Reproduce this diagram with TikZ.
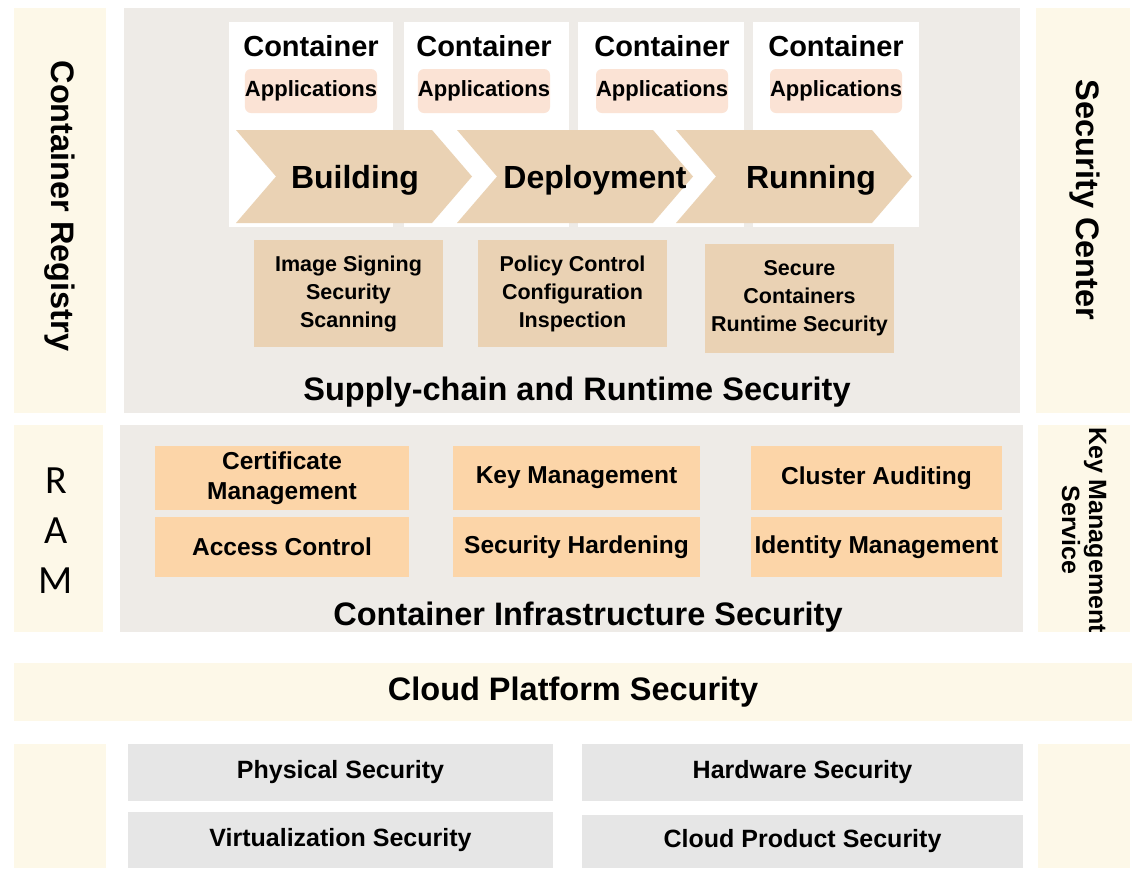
\documentclass[tikz,border=0pt]{standalone}
\usepackage{fontspec}
\setmainfont{Liberation Sans}
\newfontfamily\ramfont{Carlito}
\usetikzlibrary{positioning}
\definecolor{cream}{HTML}{FDF8E8}
\definecolor{panelgray}{HTML}{EEEBE7}
\definecolor{peach}{HTML}{FBE3D5}
\definecolor{tan}{HTML}{EAD2B4}
\definecolor{orangebox}{HTML}{FCD5A8}
\definecolor{basegray}{HTML}{E6E6E6}

\begin{document}
\begin{tikzpicture}[x=1pt,y=-1pt,
	block/.style={rectangle,inner sep=0pt,align=center},
	strip/.style={block,fill=cream},
	panel/.style={block,fill=panelgray},
	ctrbox/.style={block,fill=white,minimum height=205pt},
	apppill/.style={block,fill=peach,rounded corners=6pt,minimum width=122pt,minimum height=44pt,font=\fontsize{22}{26}\selectfont\bfseries},
	ctrtitle/.style={inner sep=0pt,font=\fontsize{29}{34}\selectfont\bfseries},
	stage/.style={inner sep=0pt,font=\fontsize{32}{38}\selectfont\bfseries},
	featbox/.style={block,fill=tan,minimum width=189pt,font=\fontsize{21.5}{28}\selectfont\bfseries},
	infrabox/.style={block,fill=orangebox,font=\fontsize{24.5}{30}\selectfont\bfseries},
	basebox/.style={block,fill=basegray,font=\fontsize{25}{30}\selectfont\bfseries},
	layertitle/.style={inner sep=0pt,font=\fontsize{32.5}{38}\selectfont\bfseries},
	sidelabel/.style={rotate=-90,inner sep=0pt,align=center,font=\fontsize{32.5}{38}\selectfont\bfseries}]

	\useasboundingbox (0,0) rectangle (1143,876);

	% upper layer
	\node[strip,minimum width=92pt,minimum height=405pt]		(regstrip)	at (60,210.5)		{};
	\node[panel,minimum width=896pt,minimum height=405pt]		(supply)	at (572,210.5)		{};
	\node[strip,minimum width=94pt,minimum height=405pt]		(scstrip)	at (1083,210.5)		{};
	\node[sidelabel]											(registry)	at (60,206)			{Container Registry};
	\node[sidelabel]											(center)	at (1085,200)		{Security Center};

	\node[ctrbox,minimum width=164pt]	(ctr1)	at (311,124.5)		{};
	\node[ctrbox,minimum width=165pt]	(ctr2)	at (486.5,124.5)	{};
	\node[ctrbox,minimum width=166pt]	(ctr3)	at (661,124.5)		{};
	\node[ctrbox,minimum width=166pt]	(ctr4)	at (836,124.5)		{};
	\foreach \i/\x in {1/311,2/484,3/662,4/836} {
		\node[ctrtitle]	(ctrname\i)	at (\x,46)	{Container};
		\node[apppill]	(app\i)		at (\x,91)	{Applications};
	}

	% chevrons
	\foreach \x in {236,457,676}
		\fill[tan] (\x,130) -- ++(196,0) -- ++(40,46.5) -- ++(-40,46.5) -- ++(-196,0) -- ++(40,-46.5) -- cycle;
	\node[stage]	(build)		at (355,180)	{Building};
	\node[stage]	(deploy)	at (595,180)	{Deployment};
	\node[stage]	(run)		at (811,180)	{Running};

	\node[featbox,minimum height=107pt]	(signing)	at (348.5,293.5)	{Image Signing\\Security\\Scanning};
	\node[featbox,minimum height=107pt]	(policy)	at (572.5,293.5)	{Policy Control\\Configuration\\Inspection};
	\node[featbox,minimum height=109pt]	(secure)	at (799.5,298.5)	{Secure\\Containers\\Runtime Security};
	\node[layertitle]					(supplytitle)	at (577,392)	{Supply-chain and Runtime Security};

	% middle layer
	\node[strip,minimum width=89pt,minimum height=207pt]		(ramstrip)	at (58.5,528.5)		{};
	\node[block,font=\ramfont\fontsize{40}{50}\selectfont]		(ram)		at (56,531)			{R\\A\\M};
	\node[panel,minimum width=903pt,minimum height=207pt]		(infra)		at (571.5,528.5)	{};
	\node[strip,minimum width=92pt,minimum height=207pt]		(kmsstrip)	at (1084,528.5)		{};
	\node[sidelabel,font=\fontsize{25}{27}\selectfont\bfseries]	(kms)	at (1084,530)	{Key Management\\Service};

	\node[infrabox,minimum width=254pt,minimum height=64pt]	(cert)		at (282,478)	{Certificate\\Management};
	\node[infrabox,minimum width=254pt,minimum height=60pt]	(access)	at (282,547)	{Access Control};
	\node[infrabox,minimum width=247pt,minimum height=64pt]	(keymgmt)	at (576.5,478)	{Key Management};
	\node[infrabox,minimum width=247pt,minimum height=60pt]	(harden)	at (576.5,547)	{Security Hardening};
	\node[infrabox,minimum width=251pt,minimum height=64pt]	(audit)		at (876.5,478)	{Cluster Auditing};
	\node[infrabox,minimum width=251pt,minimum height=60pt]	(identity)	at (876.5,547)	{Identity Management};
	\node[layertitle]										(infratitle)	at (588,617)	{Container Infrastructure Security};

	% cloud layer
	\node[strip,minimum width=1118pt,minimum height=58pt,font=\fontsize{32.5}{38}\selectfont\bfseries]	(cloud)	at (573,692)	{Cloud Platform Security};
	\node[strip,minimum width=92pt,minimum height=124pt]	(baseleft)	at (60,806)		{};
	\node[strip,minimum width=92pt,minimum height=124pt]	(baseright)	at (1084,806)	{};
	\node[basebox,minimum width=425pt,minimum height=57pt]	(physical)	at (340.5,772.5)	{Physical Security};
	\node[basebox,minimum width=441pt,minimum height=57pt]	(hardware)	at (802.5,772.5)	{Hardware Security};
	\node[basebox,minimum width=425pt,minimum height=56pt]	(virt)		at (340.5,840)		{Virtualization Security};
	\node[basebox,minimum width=441pt,minimum height=53pt]	(product)	at (802.5,841.5)	{Cloud Product Security};
\end{tikzpicture}
\end{document}
